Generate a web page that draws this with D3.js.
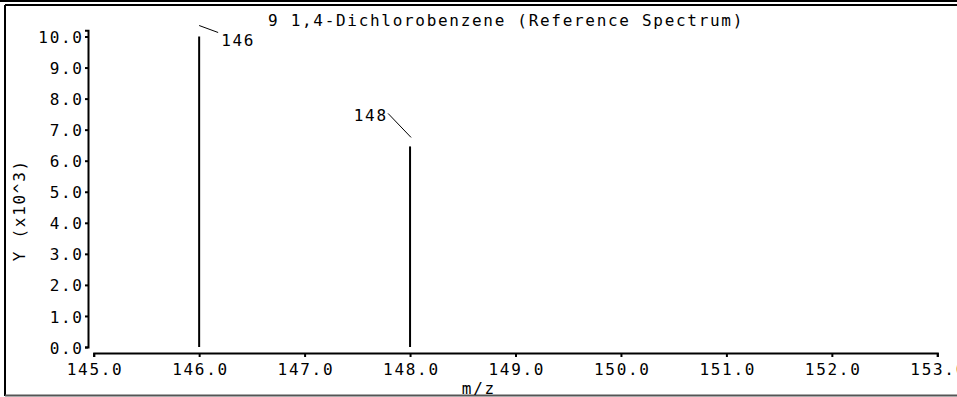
<!DOCTYPE html>
<html>
<head>
<meta charset="utf-8">
<script src="https://cdn.jsdelivr.net/npm/d3@7"></script>
<style>
  html, body { margin: 0; padding: 0; background: #fff; }
  svg { display: block; }
  text { font-family: "DejaVu Sans Mono", "Liberation Mono", monospace; font-size: 16px; letter-spacing: 1.7px; fill: #000; }
</style>
</head>
<body>
<svg id="chart" width="957" height="397"></svg>
<script>
// ---- data ----
const title = "9 1,4-Dichlorobenzene (Reference Spectrum)";
const mz = [146, 148];
const intensity = [10.0, 6.46];       // x10^3
const peakLabels = ["146", "148"];
const xTicks = [145, 146, 147, 148, 149, 150, 151, 152, 153];
const yTicks = [0, 1, 2, 3, 4, 5, 6, 7, 8, 9, 10];
const xTitle = "m/z";
const yTitle = "Y (x10^3)";

// ---- layout ----
const W = 957, H = 397, LS = 1.7;
const svg = d3.select("#chart");

const x = d3.scaleLinear().domain([145, 153]).range([93.7, 937.3]);
const y = d3.scaleLinear().domain([0, 10.2]).range([347, 30.3]);

// frame
svg.append("line").attr("x1", 0).attr("x2", W).attr("y1", 1).attr("y2", 1).attr("stroke", "#000").attr("stroke-width", 2);
svg.append("line").attr("x1", 5).attr("x2", W).attr("y1", 5).attr("y2", 5).attr("stroke", "#000").attr("stroke-width", 2);
svg.append("line").attr("x1", 5).attr("x2", 5).attr("y1", 5).attr("y2", 396).attr("stroke", "#000").attr("stroke-width", 2);
svg.append("line").attr("x1", 5).attr("x2", W).attr("y1", 395.5).attr("y2", 395.5).attr("stroke", "#555").attr("stroke-width", 2);

// title
svg.append("text").attr("x", 268).attr("y", 26).text(title);

// y axis
const yAxis = svg.append("g").attr("transform", "translate(88,0)")
  .call(d3.axisLeft(y).tickValues(yTicks).tickSize(3).tickSizeOuter(3).tickFormat(d3.format(".1f")));
yAxis.selectAll("path,line").attr("stroke", "#000").attr("stroke-width", 2);
yAxis.selectAll("text").attr("x", -6 + LS).attr("dy", "0.38em")
  .style("font-family", null).style("font-size", null).attr("font-family", null).attr("font-size", null);
yAxis.attr("font-family", null).attr("font-size", null);

// x axis
const xAxis = svg.append("g").attr("transform", "translate(0,353)")
  .call(d3.axisBottom(x).tickValues(xTicks).tickSize(4).tickSizeOuter(4).tickFormat(d3.format(".1f")));
xAxis.selectAll("path,line").attr("stroke", "#000").attr("stroke-width", 2);
xAxis.selectAll("text").attr("y", 22).attr("dy", 0).attr("dx", LS / 2);
xAxis.attr("font-family", null).attr("font-size", null);

// axis titles
svg.append("text").attr("x", 478 + LS / 2).attr("y", 394).attr("text-anchor", "middle").text(xTitle);
svg.append("text").attr("transform", "translate(25,211) rotate(-90)").attr("text-anchor", "middle")
  .attr("dx", LS / 2).text(yTitle);

// peaks
const peaks = mz.map((m, i) => ({ m, v: intensity[i], label: peakLabels[i], i }));
svg.append("g").selectAll("line").data(peaks).join("line")
  .attr("x1", d => x(d.m)).attr("x2", d => x(d.m))
  .attr("y1", y(0)).attr("y2", d => y(d.v))
  .attr("stroke", "#000").attr("stroke-width", 2);

// peak labels with leader lines (first label placed right, others left)
const lab = svg.append("g");
peaks.forEach(d => {
  const px = x(d.m), py = y(d.v);
  if (d.i === 0) {
    lab.append("line").attr("x1", px).attr("y1", py - 11).attr("x2", px + 19).attr("y2", py - 4)
      .attr("stroke", "#000").attr("stroke-width", 1);
    lab.append("text").attr("x", px + 22).attr("y", py + 9).text(d.label);
  } else {
    lab.append("line").attr("x1", px + 1).attr("y1", py - 9).attr("x2", px - 22).attr("y2", py - 33)
      .attr("stroke", "#000").attr("stroke-width", 1);
    lab.append("text").attr("x", px - 24 + LS).attr("y", py - 25).attr("text-anchor", "end").text(d.label);
  }
});
</script>
</body>
</html>
